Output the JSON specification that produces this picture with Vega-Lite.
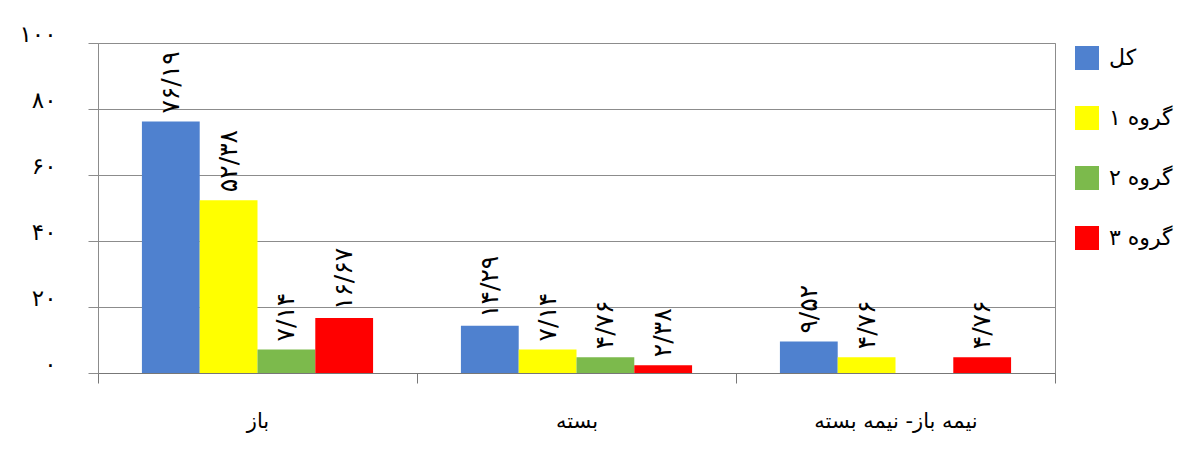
{
  "$schema": "https://vega.github.io/schema/vega-lite/v6.json",
  "width": 957,
  "height": 330,
  "autosize": {"type": "none"},
  "padding": {"left": 98, "top": 43, "right": 145, "bottom": 81},
  "background": "white",
  "config": {
    "font": "DejaVu Sans",
    "view": {"stroke": "#8c8c8c", "strokeWidth": 1},
    "legend": {
      "orient": "right",
      "offset": 17,
      "padding": 3,
      "symbolType": "square",
      "symbolSize": 576,
      "symbolStrokeWidth": 0,
      "symbolOpacity": 1,
      "labelFontSize": 22,
      "labelColor": "#000000",
      "labelOffset": 10,
      "rowPadding": 36
    }
  },
  "data": {
    "values": [
      {"state": "باز", "group": "کل", "value": 76.19, "label": "۷۶/۱۹"},
      {"state": "باز", "group": "گروه ۱", "value": 52.38, "label": "۵۲/۳۸"},
      {"state": "باز", "group": "گروه ۲", "value": 7.14, "label": "۷/۱۴"},
      {"state": "باز", "group": "گروه ۳", "value": 16.67, "label": "۱۶/۶۷"},
      {"state": "بسته", "group": "کل", "value": 14.29, "label": "۱۴/۲۹"},
      {"state": "بسته", "group": "گروه ۱", "value": 7.14, "label": "۷/۱۴"},
      {"state": "بسته", "group": "گروه ۲", "value": 4.76, "label": "۴/۷۶"},
      {"state": "بسته", "group": "گروه ۳", "value": 2.38, "label": "۲/۳۸"},
      {"state": "نیمه باز- نیمه بسته", "group": "کل", "value": 9.52, "label": "۹/۵۲"},
      {"state": "نیمه باز- نیمه بسته", "group": "گروه ۱", "value": 4.76, "label": "۴/۷۶"},
      {"state": "نیمه باز- نیمه بسته", "group": "گروه ۳", "value": 4.76, "label": "۴/۷۶"}
    ]
  },
  "encoding": {
    "x": {
      "field": "state",
      "type": "nominal",
      "sort": null,
      "scale": {"paddingInner": 0, "paddingOuter": 0},
      "axis": {
        "title": null,
        "labelAngle": 0,
        "labelFontSize": 21,
        "labelColor": "#000000",
        "labelPadding": 27,
        "tickBand": "extent",
        "tickSize": 10,
        "tickColor": "#777777",
        "domainColor": "#777777",
        "grid": false
      }
    },
    "xOffset": {
      "field": "group",
      "type": "nominal",
      "sort": ["کل", "گروه ۱", "گروه ۲", "گروه ۳"],
      "scale": {"paddingInner": 0, "paddingOuter": 0.76}
    },
    "y": {
      "field": "value",
      "type": "quantitative",
      "scale": {"domain": [0, 100], "nice": false},
      "axis": {
        "title": null,
        "values": [0, 20, 40, 60, 80, 100],
        "labelExpr": "datum.value == 0 ? '۰' : datum.value == 20 ? '۲۰' : datum.value == 40 ? '۴۰' : datum.value == 60 ? '۶۰' : datum.value == 80 ? '۸۰' : '۱۰۰'",
        "labelFontSize": 23,
        "labelColor": "#000000",
        "labelPadding": 32,
        "labelOffset": -9,
        "tickSize": 10,
        "tickColor": "#8c8c8c",
        "domain": false,
        "grid": true,
        "gridColor": "#8c8c8c",
        "gridOpacity": 1
      }
    }
  },
  "layer": [
    {
      "mark": {"type": "bar"},
      "encoding": {
        "color": {
          "field": "group",
          "type": "nominal",
          "title": null,
          "scale": {
            "domain": ["کل", "گروه ۱", "گروه ۲", "گروه ۳"],
            "range": ["#4f81cf", "#ffff00", "#7cba4c", "#ff0000"]
          }
        }
      }
    },
    {
      "mark": {
        "type": "text",
        "angle": 270,
        "align": "left",
        "baseline": "middle",
        "dx": 8,
        "fontSize": 25,
        "color": "#000000"
      },
      "encoding": {"text": {"field": "label"}}
    }
  ]
}
